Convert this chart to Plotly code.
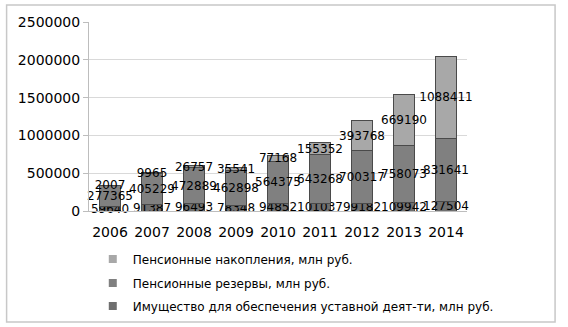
import plotly.graph_objects as go

years = ["2006", "2007", "2008", "2009", "2010", "2011", "2012", "2013", "2014"]
imushchestvo = [59640, 91387, 96493, 78348, 94852, 101037, 99182, 109942, 127504]
rezervy = [277365, 405229, 472889, 462898, 564375, 643268, 700317, 758073, 831641]
nakopleniya = [2007, 9965, 26757, 35541, 77168, 155352, 393768, 669190, 1088411]

names = [
    "Имущество для обеспечения уставной деят-ти, млн руб.",
    "Пенсионные резервы, млн руб.",
    "Пенсионные накопления, млн руб.",
]
colors = ["#6f6f6f", "#808080", "#a8a8a8"]
legend_ids = ["legend3", "legend2", "legend"]
legend_y = [-0.503, -0.381, -0.254]
series = [imushchestvo, rezervy, nakopleniya]

fig = go.Figure()
for name, vals, col in zip(names, series, colors):
    fig.add_trace(go.Bar(
        x=years, y=vals, name=name, showlegend=False,
        marker=dict(color=col, line=dict(color="#4a4a4a", width=1)),
        text=[str(v) for v in vals],
        textposition="inside",
        insidetextanchor="middle",
        textangle=0,
        constraintext="none",
        textfont=dict(family="DejaVu Sans", size=12, color="black"),
        cliponaxis=False,
    ))
# legend entries
for name, col, lid in zip(names, colors, legend_ids):
    fig.add_trace(go.Scatter(
        x=[None], y=[None], mode="markers", name=name, legend=lid,
        marker=dict(symbol="square", size=8, color=col),
        showlegend=True,
    ))

leg_common = dict(xanchor="left", yanchor="middle", bgcolor="rgba(0,0,0,0)",
                  font=dict(family="DejaVu Sans", size=12, color="black"),
                  itemwidth=30)
fig.update_layout(
    barmode="stack",
    bargap=0.5,
    width=568, height=327,
    margin=dict(l=89, r=101, t=22, b=116, autoexpand=False),
    paper_bgcolor="white", plot_bgcolor="white",
    font=dict(family="DejaVu Sans", color="black"),
    uniformtext=dict(minsize=12, mode="show"),
    legend=dict(x=0.01, y=legend_y[2], **leg_common),
    legend2=dict(x=0.01, y=legend_y[1], **leg_common),
    legend3=dict(x=0.01, y=legend_y[0], **leg_common),
    shapes=[dict(type="rect", xref="paper", yref="paper",
                 x0=-0.218, x1=1.233, y0=-0.587, y1=1.09,
                 line=dict(color="#c8c8c8", width=1.5))],
)
fig.update_xaxes(
    showgrid=False, showline=True, linecolor="#bdbdbd",
    tickfont=dict(size=14), ticks="", ticklabelstandoff=8,
)
fig.update_yaxes(
    range=[0, 2500000], dtick=500000, tickformat="d",
    showgrid=True, gridcolor="#d9d9d9", gridwidth=1,
    showline=True, linecolor="#bdbdbd",
    ticks="outside", ticklen=5, tickcolor="#bdbdbd",
    tickfont=dict(size=14), zeroline=False,
)

fig.write_html("out.html")
